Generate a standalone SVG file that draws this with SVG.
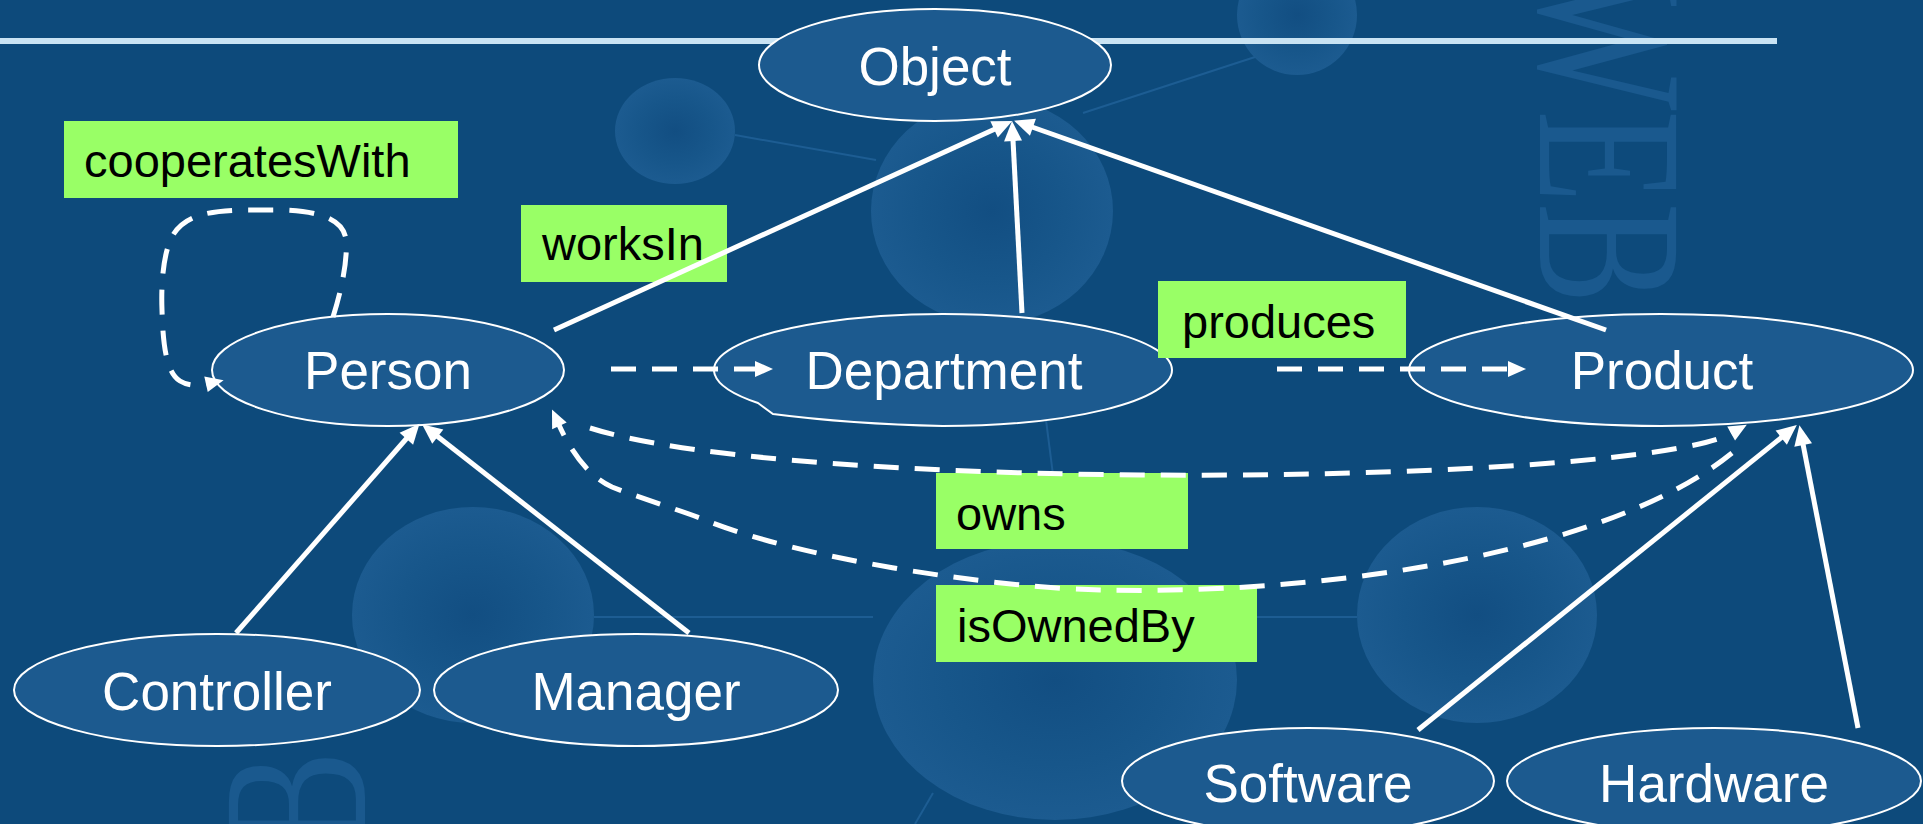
<svg xmlns="http://www.w3.org/2000/svg" width="1923" height="824" viewBox="0 0 1923 824">
<defs>
<radialGradient id="blob" cx="50%" cy="50%" r="50%">
<stop offset="0" stop-color="#124e82"/>
<stop offset="0.6" stop-color="#17568a"/>
<stop offset="1" stop-color="#1c5b90"/>
</radialGradient>
<marker id="ah" markerUnits="userSpaceOnUse" markerWidth="20" markerHeight="18" refX="1" refY="8" orient="auto" overflow="visible">
<path d="M0,0 L18,8 L0,16 z" fill="#fff"/>
</marker>
<marker id="as" markerUnits="userSpaceOnUse" markerWidth="22" markerHeight="20" refX="1" refY="9" orient="auto" overflow="visible">
<path d="M0,0 L20,9 L0,18 z" fill="#fff"/>
</marker>
<style>
.blob{fill:url(#blob)}
.bl{stroke:#1d5d93;stroke-width:2;fill:none}
.wm{font-family:"Liberation Serif","Times New Roman",serif;font-size:207px;fill:#1a598e}
.node ellipse,.node path{fill:#1c5a8f;stroke:#fff;stroke-width:2}
.node text{font-family:"Liberation Sans",Arial,sans-serif;font-size:53px;fill:#fff;text-anchor:middle}
.lbl rect{fill:#99ff66}
.lbl text{font-family:"Liberation Sans",Arial,sans-serif;font-size:47px;fill:#000}
.solid{stroke:#fff;stroke-width:5;fill:none;marker-end:url(#as)}
.dash{stroke:#fff;stroke-width:5;fill:none;stroke-dasharray:25 16;marker-end:url(#ah)}
</style>
</defs>
<rect x="0" y="0" width="1923" height="824" fill="#0d4a7b"/>
<g id="background">
<line class="bl" x1="735" y1="135" x2="876" y2="160"/>
<line class="bl" x1="1083" y1="113" x2="1255" y2="57"/>
<line class="bl" x1="594" y1="617" x2="873" y2="617"/>
<line class="bl" x1="1236" y1="617" x2="1357" y2="617"/>
<line class="bl" x1="1046" y1="420" x2="1062" y2="545"/>
<line class="bl" x1="933" y1="793" x2="915" y2="824"/>
<ellipse class="blob" cx="675" cy="131" rx="60" ry="53"/>
<ellipse class="blob" cx="992" cy="211" rx="121" ry="113"/>
<ellipse class="blob" cx="1297" cy="15" rx="60" ry="60"/>
<ellipse class="blob" cx="473" cy="615" rx="121" ry="108"/>
<ellipse class="blob" cx="1055" cy="680" rx="182" ry="140"/>
<ellipse class="blob" cx="1477" cy="615" rx="120" ry="108"/>
<text class="wm" transform="translate(1540,-32) rotate(90) scale(0.73,1)">WEB</text>
<text class="wm" text-anchor="end" transform="translate(365,751) rotate(-90) scale(0.73,1)">WEB</text>
<rect x="0" y="38" width="1777" height="6" fill="#c9e3f3"/>
</g>
<g id="n-object" class="node"><ellipse cx="935" cy="65" rx="176" ry="56"/><text x="935" y="85">Object</text></g>
<g id="n-person" class="node"><ellipse cx="388" cy="370" rx="176" ry="56"/><text x="388" y="389">Person</text></g>
<g id="n-department" class="node"><path d="M758,403 L773,414 Q850,424 943,426 A229,56 0 0 0 943,314 A229,56 0 0 0 758,403 Z"/><text x="944" y="389">Department</text></g>
<g id="n-product" class="node"><ellipse cx="1661" cy="370" rx="252" ry="56"/><text x="1662" y="389">Product</text></g>
<g id="n-controller" class="node"><ellipse cx="217" cy="690" rx="203" ry="56"/><text x="217" y="710">Controller</text></g>
<g id="n-manager" class="node"><ellipse cx="636" cy="690" rx="202" ry="56"/><text x="636" y="710">Manager</text></g>
<g id="n-software" class="node"><ellipse cx="1308" cy="781" rx="186" ry="53"/><text x="1308" y="802">Software</text></g>
<g id="n-hardware" class="node"><ellipse cx="1714" cy="781" rx="207" ry="53"/><text x="1714" y="802">Hardware</text></g>
<g id="labels" class="lbl">
<rect x="64" y="121" width="394" height="77"/><text x="84" y="177">cooperatesWith</text>
<rect x="521" y="205" width="206" height="77"/><text x="542" y="260">worksIn</text>
<rect x="1158" y="281" width="248" height="77"/><text x="1182" y="338">produces</text>
<rect x="936" y="473" width="252" height="76"/><text x="956" y="530">owns</text>
<rect x="936" y="585" width="321" height="77"/><text x="957" y="642">isOwnedBy</text>
</g>
<g id="connectors">
<path class="solid" d="M554,330 L995,129"/>
<path class="solid" d="M1022,313 L1013,140"/>
<path class="solid" d="M1606,330 L1032,127"/>
<path class="solid" d="M236,633 L407,438"/>
<path class="solid" d="M689,633 L437,436"/>
<path class="solid" d="M1418,730 L1782,437"/>
<path class="solid" d="M1858,728 L1803,444"/>
<path class="dash" d="M611,369 L756,369"/>
<path class="dash" d="M1277,369 L1509,369"/>
<path class="dash" d="M590,428 C800,495 1640,485 1732,433"/>
<path class="dash" d="M1732,453 C1600,560 1300,595 1100,590 C1000,588 800,560 700,518 C670,507 640,498 612,487 C592,478 574,458 559,425"/>
<path class="dash" d="M333,317 C340,295 348,262 346,240 C344,220 320,211 283,210 L250,210 C210,210 185,215 173,235 C163,252 161,285 162,310 C163,345 166,372 180,381 C188,386 198,386 207,384"/>
</g>
</svg>
